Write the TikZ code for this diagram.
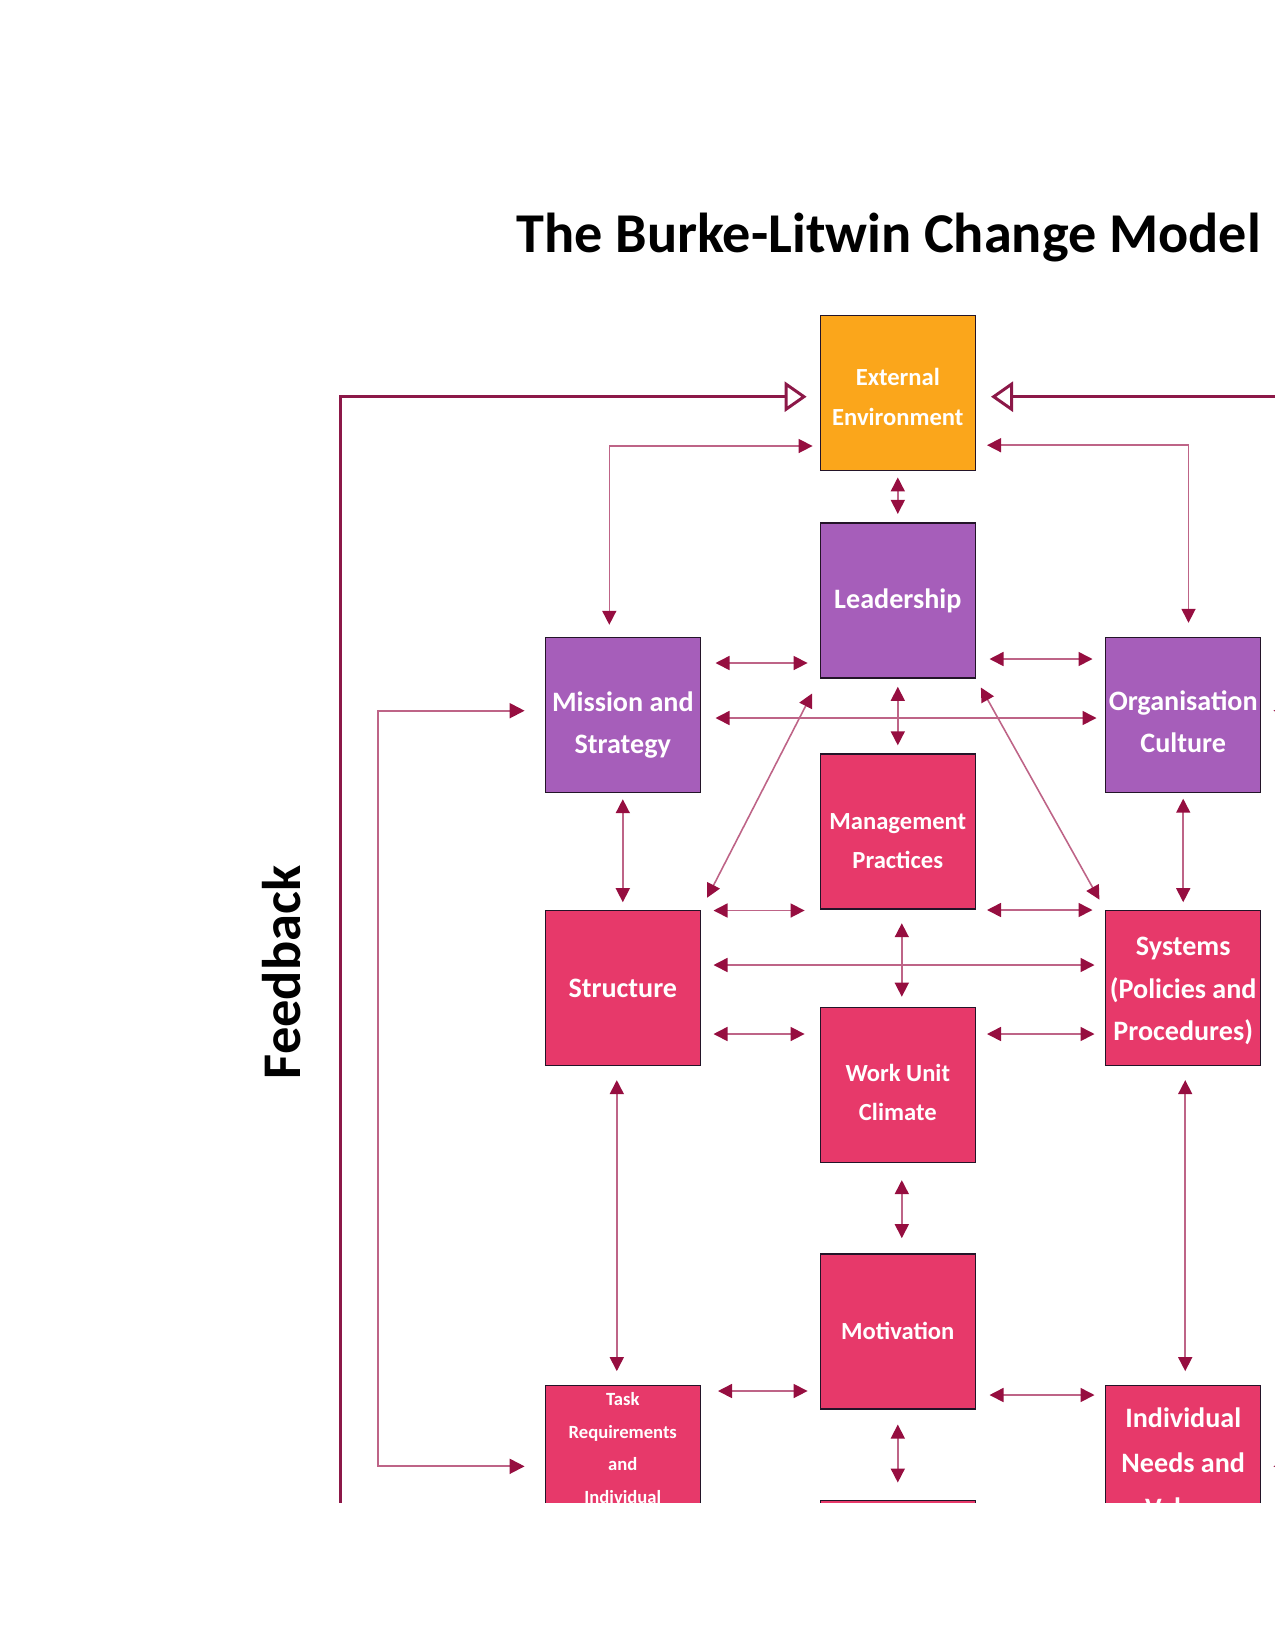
\documentclass[tikz,border=0pt]{standalone}
\usepackage{fontspec}
\setmainfont{Carlito}
\usetikzlibrary{arrows.meta,positioning,calc}

\definecolor{extorange}{RGB}{251,166,27}
\definecolor{leadpurple}{RGB}{166,94,186}
\definecolor{oprose}{RGB}{231,57,106}
\definecolor{tipred}{RGB}{150,14,64}
\definecolor{linerose}{RGB}{190,100,135}
\definecolor{fbred}{RGB}{140,24,72}
\definecolor{boxedge}{RGB}{35,20,40}

% pushes a box text down a little
\newcommand{\droptext}[1]{\rule{0pt}{#1}}

\begin{document}
\begin{tikzpicture}[
  x=0.2mm, y=-0.2mm,
  box/.style={draw=boxedge, line width=0.8pt, minimum width=31mm, minimum height=31mm, inner sep=1pt, align=center, text=white},
  bigtxt/.style={font=\fontsize{16pt}{24pt}\selectfont\bfseries},
  smalltxt/.style={font=\fontsize{14pt}{22.5pt}\selectfont\bfseries},
  tinytxt/.style={font=\fontsize{10.6pt}{18.6pt}\selectfont\bfseries},
  arr/.style={{Triangle[length=2.8mm,width=2.8mm,color=tipred]}-{Triangle[length=2.8mm,width=2.8mm,color=tipred]}, draw=linerose, line width=0.9pt, shorten <=2.6mm, shorten >=2.6mm},
  fb/.style={-{Triangle[open,length=4.4mm,width=6mm,line width=1.7pt]}, draw=fbred, line width=1.7pt},
  fbin/.style={-{Triangle[length=3mm,width=3mm,color=tipred]}, draw=linerose, line width=1.1pt},
  heading/.style={font=\fontsize{32pt}{38pt}\selectfont\bfseries}
]
\useasboundingbox (0,0) rectangle (1275,1650);

\begin{scope}
\clip (0,0) rectangle (1275,1502);

\node[heading, anchor=base] (title) at (888.8,252.5) {The Burke-Litwin Change Model};
\node[heading, font=\fontsize{31pt}{36pt}\selectfont\bfseries, rotate=90, anchor=base] (fbtext) at (300,972.5) {Feedback};

% centre column
\node[box, fill=extorange, smalltxt] (ext) at (897.8,393.2) {\droptext{14pt}External\\Environment};
\node[box, fill=leadpurple, bigtxt, below=10.2mm of ext] (lead) {Leadership};
\node[box, fill=oprose, smalltxt, below=14.9mm of lead] (mgmt) {\droptext{20pt}Management\\Practices};
\node[box, fill=oprose, smalltxt, below=19.4mm of mgmt] (work) {\droptext{18.5pt}Work Unit\\Climate};
\node[box, fill=oprose, smalltxt, below=18mm of work] (motiv) {Motivation};
\node[box, fill=oprose, below=18mm of motiv] (perf) {};

% side columns
\node[box, fill=leadpurple, bigtxt] (mission) at (622.8,715) {\droptext{22.3pt}Mission and\\Strategy};
\node[box, fill=leadpurple, bigtxt, right=80.8mm of mission] (culture) {\droptext{19pt}Organisation\\Culture};
\node[box, fill=oprose, bigtxt, below=23.3mm of mission] (structure) {Structure};
\node[box, fill=oprose, bigtxt, below=23.3mm of culture] (systems) {\droptext{14pt}Systems\\(Policies and\\Procedures)};
\node[box, fill=oprose, tinytxt, below=63.7mm of structure] (task) {Task\\Requirements\\and\\Individual\\[-7.2pt]\strut};
\node[box, fill=oprose, bigtxt, font=\fontsize{16pt}{25.5pt}\selectfont\bfseries, below=63.7mm of systems] (indiv) {Individual\\Needs and\\Values};

% feedback loops
\coordinate (fbl) at (340.7,1540);
\coordinate (fbr) at (1455,1540);
\draw[fb, shorten >=2.6mm] (fbl) |- ([yshift=-0.7mm]ext.west);
\draw[fb, shorten >=3mm] (fbr) |- ([yshift=-0.7mm]ext.east);

\coordinate (ifl) at (378.3,1100);
\coordinate (ifr) at (1417,1100);
\draw[fbin, shorten >=4mm] (ifl) |- ([yshift=0.86mm]mission.west);
\draw[fbin, shorten >=4mm] (ifl) |- ([yshift=-0.7mm]task.west);
\draw[fbin, shorten >=2.4mm] (ifr) |- ([yshift=0.86mm]culture.east);
\draw[fbin, shorten >=2.4mm] (ifr) |- ([yshift=-0.7mm]indiv.east);

% external environment links
\draw[arr, shorten <=2.4mm, shorten >=1.4mm] ([xshift=-2.7mm]mission.north) |- ([yshift=-10.56mm]ext.west);
\draw[arr, shorten <=2.8mm, shorten >=2.2mm] ([xshift=1.06mm]culture.north) |- ([yshift=-10.4mm]ext.east);

% vertical links
\draw[arr, shorten <=1.2mm, shorten >=1.7mm] (ext.south) -- (lead.north);
\draw[arr, shorten <=1.6mm, shorten >=1.6mm] (lead.south) -- (mgmt.north);
\draw[arr, shorten <=2.7mm, shorten >=2mm] ([xshift=0.8mm]mgmt.south) -- ([xshift=0.8mm]work.north);
\draw[arr, shorten <=3.4mm, shorten >=3mm] ([xshift=0.8mm]work.south) -- ([xshift=0.8mm]motiv.north);
\draw[arr, shorten <=3mm, shorten >=3.4mm] (motiv.south) -- (perf.north);
\draw[arr, shorten <=1.2mm, shorten >=1.5mm] (mission.south) -- (structure.north);
\draw[arr, shorten <=1.1mm, shorten >=1.5mm] (culture.south) -- (systems.north);
\draw[arr, shorten <=2.8mm, shorten >=2.7mm] ([xshift=-1.2mm]structure.south) -- ([xshift=-1.2mm]task.north);
\draw[arr, shorten <=2.8mm, shorten >=2.7mm] ([xshift=0.4mm]systems.south) -- ([xshift=0.4mm]indiv.north);

% horizontal links
\draw[arr, shorten <=2.9mm, shorten >=2.4mm] (mission.east |- 0,663) -- (lead.west |- 0,663);
\draw[arr, shorten <=2.7mm, shorten >=2.5mm] (lead.east |- 0,659) -- (culture.west |- 0,659);
\draw[arr, shorten <=2.9mm, shorten >=1.7mm] (mission.east |- 0,718) -- (culture.west |- 0,718);
\draw[arr, shorten <=2.5mm, shorten >=3mm] (structure.east |- 0,910.5) -- (mgmt.west |- 0,910.5);
\draw[arr, shorten <=2.2mm, shorten >=2.5mm] (mgmt.east |- 0,910) -- (systems.west |- 0,910);
\draw[arr, shorten <=2.5mm, shorten >=2.1mm] (structure.east |- 0,965) -- (systems.west |- 0,965);
\draw[arr, shorten <=2.5mm, shorten >=3mm] (structure.east |- 0,1034) -- (work.west |- 0,1034);
\draw[arr, shorten <=2.2mm, shorten >=2.1mm] (work.east |- 0,1034) -- (systems.west |- 0,1034);
\draw[arr, shorten <=3.4mm, shorten >=2.4mm] (task.east |- 0,1391) -- (motiv.west |- 0,1391);
\draw[arr, shorten <=2.7mm, shorten >=2.1mm] (motiv.east |- 0,1395) -- (indiv.west |- 0,1395);

% diagonal links
\draw[arr, shorten <=3.3mm, shorten >=2.7mm] (lead.south west) -- (structure.north east);
\draw[arr, shorten <=2mm, shorten >=2.3mm] (lead.south east) -- (systems.north west);
\end{scope}

\end{tikzpicture}
\end{document}
